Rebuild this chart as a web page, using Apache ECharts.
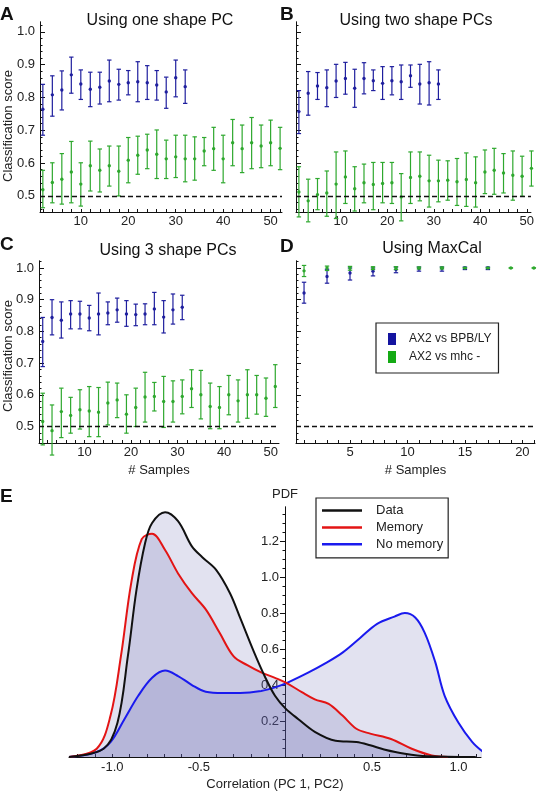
<!DOCTYPE html>
<html>
<head>
<meta charset="utf-8">
<script src="https://cdn.jsdelivr.net/npm/echarts@6/dist/echarts.min.js"></script>
<style>html,body{margin:0;padding:0;background:#fff}#main{width:537px;height:795px}</style>
</head>
<body>
<div id="main"></div>
<script>
// sample counts
var samplesA = [2,4,6,8,10,12,14,16,18,20,22,24,26,28,30,32,34,36,38,40,42,44,46,48,50,52];
var samplesBC = [1,3,5,7,9,11,13,15,17,19,21,23,25,27,29,31,33,35,37,39,41,43,45,47,49,51];
var samplesD = [1,3,5,7,9,11,13,15,17,19,21];

// A: one shape PC
var aBlueMean = [0.764,0.808,0.823,0.869,0.841,0.825,0.831,0.850,0.840,0.845,0.848,0.845,0.838,0.817,0.860,0.833];
var aBlueLow  = [0.685,0.743,0.762,0.813,0.794,0.772,0.780,0.787,0.792,0.808,0.787,0.794,0.792,0.767,0.802,0.782];
var aBlueHigh = [0.840,0.866,0.881,0.923,0.884,0.877,0.877,0.914,0.886,0.882,0.909,0.897,0.882,0.862,0.914,0.884];
var aGreenMean = [0.519,0.541,0.551,0.573,0.536,0.592,0.578,0.592,0.575,0.609,0.624,0.640,0.627,0.613,0.619,0.613,0.613,0.637,0.644,0.613,0.662,0.644,0.662,0.652,0.662,0.645];
var aGreenLow  = [0.464,0.479,0.475,0.479,0.469,0.515,0.512,0.530,0.500,0.540,0.566,0.583,0.553,0.553,0.556,0.543,0.548,0.592,0.578,0.540,0.592,0.571,0.583,0.586,0.592,0.580];
var aGreenHigh = [0.578,0.601,0.629,0.666,0.601,0.667,0.643,0.652,0.652,0.678,0.682,0.688,0.701,0.670,0.685,0.685,0.680,0.678,0.709,0.685,0.733,0.716,0.739,0.716,0.731,0.709];

// B: two shape PCs
var bBlueMean = [0.757,0.813,0.835,0.830,0.850,0.858,0.828,0.858,0.851,0.843,0.851,0.848,0.866,0.841,0.845,0.841];
var bBlueLow  = [0.690,0.746,0.794,0.772,0.800,0.810,0.770,0.811,0.821,0.794,0.808,0.794,0.831,0.780,0.777,0.794];
var bBlueHigh = [0.821,0.879,0.876,0.884,0.901,0.907,0.886,0.906,0.884,0.894,0.894,0.899,0.899,0.901,0.909,0.884];
var bGreenMean = [0.512,0.485,0.504,0.509,0.536,0.558,0.522,0.540,0.535,0.538,0.540,0.497,0.556,0.560,0.546,0.546,0.548,0.543,0.550,0.540,0.573,0.578,0.570,0.563,0.560,0.584];
var bGreenLow  = [0.436,0.421,0.458,0.438,0.431,0.477,0.454,0.479,0.458,0.479,0.477,0.424,0.477,0.485,0.466,0.482,0.487,0.471,0.468,0.466,0.507,0.505,0.509,0.487,0.499,0.530];
var bGreenHigh = [0.589,0.551,0.553,0.576,0.634,0.637,0.589,0.597,0.602,0.602,0.602,0.568,0.634,0.634,0.624,0.609,0.607,0.614,0.631,0.619,0.640,0.645,0.629,0.637,0.621,0.637];

// C: 3 shape PCs
var cBlueMean = [0.768,0.844,0.835,0.855,0.855,0.842,0.855,0.858,0.868,0.855,0.853,0.855,0.871,0.845,0.868,0.876];
var cBlueLow  = [0.689,0.789,0.779,0.808,0.808,0.802,0.789,0.821,0.829,0.816,0.818,0.821,0.821,0.795,0.823,0.837];
var cBlueHigh = [0.844,0.900,0.893,0.897,0.895,0.882,0.921,0.893,0.905,0.897,0.886,0.887,0.923,0.897,0.918,0.914];
var cGreenMean = [0.516,0.487,0.547,0.535,0.553,0.549,0.545,0.574,0.584,0.539,0.560,0.593,0.595,0.579,0.579,0.595,0.619,0.600,0.563,0.560,0.600,0.581,0.600,0.600,0.589,0.626];
var cGreenLow  = [0.442,0.410,0.465,0.479,0.492,0.468,0.468,0.505,0.528,0.479,0.500,0.514,0.549,0.497,0.514,0.540,0.560,0.524,0.493,0.493,0.537,0.514,0.526,0.539,0.532,0.560];
var cGreenHigh = [0.605,0.568,0.621,0.592,0.616,0.626,0.623,0.640,0.637,0.600,0.621,0.671,0.639,0.658,0.644,0.647,0.679,0.677,0.637,0.626,0.661,0.647,0.679,0.661,0.653,0.695];

// D: MaxCal
var dBlueMean = [0.921,0.973,0.984,0.990,0.995,0.998,0.999,1.000,1.000];
var dBlueLow  = [0.889,0.952,0.962,0.975,0.985,0.990,0.990,0.995,0.995];
var dBlueHigh = [0.955,0.996,1.000,1.000,1.003,1.003,1.003,1.003,1.003];
var dGreenMean = [0.991,1.000,1.000,1.000,1.000,1.000,1.000,1.000,1.000,1.000,1.000];
var dGreenLow  = [0.973,0.992,0.993,0.995,0.995,0.997,0.997,1.000,1.000,1.000,1.000];
var dGreenHigh = [1.008,1.006,1.005,1.004,1.004,1.003,1.003,1.000,1.000,1.000,1.000];

// E: PDF of correlation
var dataX = [-1.25,-1.05,-0.97,-0.91,-0.86,-0.81,-0.77,-0.695,-0.62,-0.54,-0.48,-0.40,-0.32,-0.26,-0.18,-0.12,-0.06,0,0.075,0.17,0.29,0.41,0.49,0.57,0.69,0.82,1.10];
var dataY = [0,0.046,0.19,0.56,0.93,1.19,1.30,1.36,1.31,1.17,1.11,1.04,0.91,0.77,0.58,0.45,0.34,0.27,0.21,0.14,0.09,0.083,0.065,0.042,0.018,0.004,0];
var memX = [-1.25,-1.09,-1.01,-0.95,-0.89,-0.83,-0.77,-0.695,-0.62,-0.54,-0.46,-0.38,-0.30,-0.22,-0.14,-0.06,0,0.095,0.17,0.25,0.33,0.41,0.49,0.61,0.73,0.845,0.94];
var memY = [0,0.046,0.23,0.56,0.97,1.21,1.24,1.15,1.02,0.91,0.82,0.69,0.56,0.51,0.47,0.44,0.415,0.36,0.32,0.295,0.23,0.157,0.13,0.10,0.046,0.009,0];
var noMemX = [-1.25,-1.09,-1.01,-0.93,-0.85,-0.77,-0.695,-0.62,-0.54,-0.46,-0.36,-0.26,-0.14,-0.06,0.016,0.134,0.23,0.33,0.43,0.53,0.63,0.69,0.75,0.805,0.865,0.92,1.0,1.08,1.14];
var noMemY = [0,0.028,0.083,0.21,0.34,0.44,0.48,0.45,0.40,0.363,0.356,0.356,0.367,0.387,0.415,0.47,0.52,0.58,0.66,0.74,0.78,0.80,0.775,0.69,0.53,0.34,0.19,0.083,0.03];

var scoreLabels = [0.5,0.6,0.7,0.8,0.9,1.0];
var sampleLabels = [10,20,30,40,50];
var maxcalLabels = [5,10,15,20];
var corrLabels = [-1.0,-0.5,0.5,1.0];
var pdfLabels = [0.2,0.4,0.6,0.8,1.0,1.2];

var FONT = "'Liberation Sans', Arial, sans-serif";
var BLUE = '#1f1f9e', GREEN = '#2ea82e';

function steps(a, b, s) {
  var out = [];
  for (var v = a; v <= b + 1e-9; v += s) out.push(Math.round(v * 1000) / 1000);
  return out;
}
function rows(xs, m, lo, hi) {
  return m.map(function (v, i) { return [xs[i], v, lo[i], hi[i]]; });
}

function renderBar(params, api) {
  var x = api.value(0);
  var p = api.coord([x, api.value(1)]);
  var hi = api.coord([x, api.value(3)]);
  var lo = api.coord([x, api.value(2)]);
  var col = api.visual('color');
  var cap = 2.2;
  var ls = { stroke: col, lineWidth: 1.2 };
  return { type: 'group', children: [
    { type: 'line', shape: { x1: p[0], y1: hi[1], x2: p[0], y2: lo[1] }, style: ls },
    { type: 'line', shape: { x1: p[0] - cap, y1: hi[1], x2: p[0] + cap, y2: hi[1] }, style: ls },
    { type: 'line', shape: { x1: p[0] - cap, y1: lo[1], x2: p[0] + cap, y2: lo[1] }, style: ls },
    { type: 'circle', shape: { cx: p[0], cy: p[1], r: 1.7 }, style: { fill: col } }
  ]};
}

function xAx(grid, min, max, ticks, labels, name) {
  return {
    type: 'value', gridIndex: grid, min: min, max: max,
    name: name || '', nameLocation: 'middle', nameGap: 21,
    nameTextStyle: { fontFamily: FONT, fontSize: 13, color: '#222' },
    axisLine: { onZero: false, lineStyle: { color: '#111', width: 1 } },
    axisTick: { inside: true, length: 3, customValues: ticks, lineStyle: { color: '#111' } },
    axisLabel: { customValues: labels, margin: 3, fontFamily: FONT, fontSize: 13, color: '#222' },
    splitLine: { show: false }
  };
}
function yAxes(grid, min, max, minor, major, labels) {
  return [{
    type: 'value', gridIndex: grid, min: min, max: max, position: 'left',
    axisLine: { onZero: false, lineStyle: { color: '#111', width: 1 } },
    axisTick: { inside: true, length: 2.5, customValues: minor, lineStyle: { color: '#111' } },
    axisLabel: { show: !!labels, customValues: labels || [], margin: 5, fontFamily: FONT, fontSize: 13, color: '#222',
      formatter: function (v) { return v.toFixed(1); } },
    splitLine: { show: false }
  }, {
    type: 'value', gridIndex: grid, min: min, max: max, position: 'left',
    axisLine: { onZero: false, lineStyle: { color: '#111', width: 1 } },
    axisTick: { inside: true, length: 5, customValues: major, lineStyle: { color: '#111' } },
    axisLabel: { show: false },
    splitLine: { show: false }
  }];
}

var dash = {
  silent: true, symbol: ['none', 'none'], label: { show: false },
  lineStyle: { color: '#111', type: [5, 3], width: 1.4 },
  data: [{ yAxis: 0.5 }]
};

function barSeries(name, color, grid, data, withLine) {
  var s = {
    type: 'custom', name: name, xAxisIndex: grid, yAxisIndex: grid * 2,
    itemStyle: { color: color }, renderItem: renderBar,
    encode: { x: 0, y: 1 }, data: data
  };
  if (withLine) s.markLine = dash;
  return s;
}

var minorScore = steps(0.46, 1.02, 0.02);
var evenTicks = steps(2, 52, 2);
var evenTicksB = steps(2, 50, 2);

var yAll = [].concat(
  yAxes(0, 0.451, 1.03, minorScore, scoreLabels, scoreLabels),
  yAxes(1, 0.451, 1.03, minorScore, scoreLabels, null),
  yAxes(2, 0.448, 1.022, minorScore, scoreLabels, scoreLabels),
  yAxes(3, 0.448, 1.022, minorScore, scoreLabels, null)
);
// E y axis, moved onto x = 0 with a negative offset (grid left 69 -> 285)
var E_ZERO_OFFSET = -216;
yAll.push({
  type: 'value', gridIndex: 4, min: 0, max: 1.389, position: 'left', offset: E_ZERO_OFFSET,
  name: 'PDF', nameLocation: 'end', nameGap: 6,
  nameTextStyle: { fontFamily: FONT, fontSize: 13, color: '#222' },
  axisLine: { onZero: false, lineStyle: { color: '#111', width: 1 } },
  axisTick: { inside: false, length: 2.5, customValues: steps(0.05, 1.35, 0.05), lineStyle: { color: '#111' } },
  axisLabel: { customValues: pdfLabels, margin: 6, fontFamily: FONT, fontSize: 13, color: '#222',
    formatter: function (v) { return v.toFixed(1); } },
  splitLine: { show: false }
});
yAll.push({
  type: 'value', gridIndex: 4, min: 0, max: 1.389, position: 'left', offset: E_ZERO_OFFSET,
  axisLine: { onZero: false, lineStyle: { color: '#111', width: 1 } },
  axisTick: { inside: false, length: 5, customValues: pdfLabels, lineStyle: { color: '#111' } },
  axisLabel: { show: false }, splitLine: { show: false }
});

var xAll = [
  xAx(0, 1.4, 52.4, evenTicks, sampleLabels),
  xAx(1, 0.38, 50.9, evenTicksB, sampleLabels),
  xAx(2, 0.2, 51.8, evenTicks, sampleLabels, '# Samples'),
  xAx(3, 0.3, 21.1, steps(1, 21, 1), maxcalLabels, '# Samples'),
  {
    type: 'value', gridIndex: 4, min: -1.25, max: 1.13,
    name: 'Correlation (PC 1, PC2)', nameLocation: 'middle', nameGap: 21,
    nameTextStyle: { fontFamily: FONT, fontSize: 13, color: '#222' },
    axisLine: { onZero: false, lineStyle: { color: '#111', width: 1 } },
    axisTick: { inside: true, length: 3, customValues: steps(-1.2, 1.1, 0.1), lineStyle: { color: '#111' } },
    axisLabel: { customValues: corrLabels, margin: 4, fontFamily: FONT, fontSize: 13, color: '#222',
      formatter: function (v) { return v.toFixed(1); } },
    splitLine: { show: false }
  }
];

function pairs(xs, ys) { return xs.map(function (x, i) { return [x, ys[i]]; }); }
function pdfSeries(name, color, xs, ys) {
  return {
    type: 'line', name: name, xAxisIndex: 4, yAxisIndex: 8,
    data: pairs(xs, ys), smooth: 0.35, symbol: 'none',
    lineStyle: { color: color, width: 2 }, itemStyle: { color: color },
    areaStyle: { color: 'rgba(90,90,170,0.25)' }
  };
}

function txt(x, y, text, size, bold, align) {
  return { type: 'text', x: x, y: y, style: {
    text: text, font: (bold ? 'bold ' : '') + size + 'px ' + FONT,
    fill: '#111', align: align || 'center', verticalAlign: 'middle' } };
}
var yName = function (y) {
  var t = txt(8, y, 'Classification score', 13, false);
  t.rotation = Math.PI / 2;
  t.style.fill = '#222';
  return t;
};

var chart = echarts.init(document.getElementById('main'));
chart.setOption({
  animation: false,
  backgroundColor: '#fff',
  grid: [
    { left: 40, top: 22, width: 242, height: 190 },
    { left: 296, top: 22, width: 240, height: 190 },
    { left: 39, top: 261, width: 240, height: 182 },
    { left: 296, top: 261, width: 239, height: 182 },
    { left: 69, top: 507, width: 412, height: 250 }
  ],
  xAxis: xAll,
  yAxis: yAll,
  legend: [{
    left: 376, top: 323, orient: 'vertical', selectedMode: false,
    data: [
      { name: 'AX2 vs BPB/LY', icon: 'rect', itemStyle: { color: '#1414a0' } },
      { name: 'AX2 vs mhc -', icon: 'rect', itemStyle: { color: '#14aa14' } }
    ],
    itemWidth: 8, itemHeight: 12, itemGap: 6, padding: [10, 7, 10, 12],
    borderColor: '#222', borderWidth: 1.2, backgroundColor: '#fff',
    textStyle: { fontFamily: FONT, fontSize: 12, color: '#222', padding: [0, 0, 0, 8] }
  }, {
    left: 316, top: 498, orient: 'vertical', selectedMode: false,
    data: [
      { name: 'Data', icon: 'rect' },
      { name: 'Memory', icon: 'rect' },
      { name: 'No memory', icon: 'rect' }
    ],
    itemWidth: 40, itemHeight: 2.5, itemGap: 3.9, padding: [6, 5, 7, 6],
    borderColor: '#222', borderWidth: 1.2, backgroundColor: '#fff',
    textStyle: { fontFamily: FONT, fontSize: 13, color: '#222', padding: [0, 0, 0, 9] }
  }],
  graphic: [
    txt(0, 15, 'A', 19, true, 'left'),
    txt(280, 15, 'B', 19, true, 'left'),
    txt(0, 245, 'C', 19, true, 'left'),
    txt(280, 247, 'D', 19, true, 'left'),
    txt(0, 497, 'E', 19, true, 'left'),
    txt(160, 21, 'Using one shape PC', 16, false),
    txt(416, 21, 'Using two shape PCs', 16, false),
    txt(168, 251, 'Using 3 shape PCs', 16, false),
    txt(432, 249, 'Using MaxCal', 16, false),
    yName(126),
    yName(356)
  ],
  series: [
    barSeries('AX2 vs BPB/LY', BLUE, 0, rows(samplesA, aBlueMean, aBlueLow, aBlueHigh), false),
    barSeries('AX2 vs mhc -', GREEN, 0, rows(samplesA, aGreenMean, aGreenLow, aGreenHigh), true),
    barSeries('AX2 vs BPB/LY', BLUE, 1, rows(samplesBC, bBlueMean, bBlueLow, bBlueHigh), false),
    barSeries('AX2 vs mhc -', GREEN, 1, rows(samplesBC, bGreenMean, bGreenLow, bGreenHigh), true),
    barSeries('AX2 vs BPB/LY', BLUE, 2, rows(samplesBC, cBlueMean, cBlueLow, cBlueHigh), false),
    barSeries('AX2 vs mhc -', GREEN, 2, rows(samplesBC, cGreenMean, cGreenLow, cGreenHigh), true),
    barSeries('AX2 vs BPB/LY', BLUE, 3, rows(samplesD, dBlueMean, dBlueLow, dBlueHigh), false),
    barSeries('AX2 vs mhc -', GREEN, 3, rows(samplesD, dGreenMean, dGreenLow, dGreenHigh), true),
    pdfSeries('No memory', '#1a1aee', noMemX, noMemY),
    pdfSeries('Memory', '#e31414', memX, memY),
    pdfSeries('Data', '#111111', dataX, dataY)
  ]
});
</script>
</body>
</html>
